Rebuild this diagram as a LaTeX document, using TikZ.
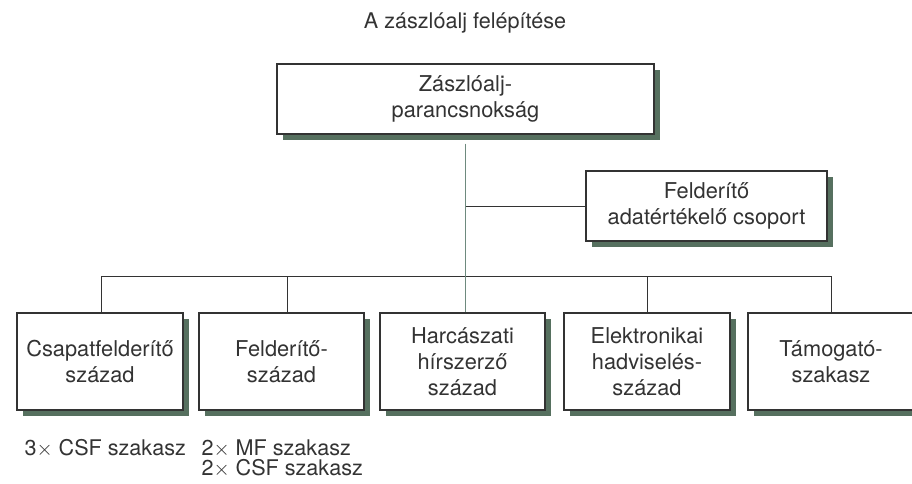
\documentclass[tikz,border=0pt]{standalone}
\usepackage{fontspec}
\setmainfont{TeX Gyre Heros}
\usetikzlibrary{shadows}
\definecolor{shadowc}{HTML}{56705F}
\definecolor{stemc}{HTML}{6E8A7E}
\definecolor{ink}{HTML}{333333}
\begin{document}
\begin{tikzpicture}[x=1pt,y=-1pt,
  every node/.style={text=ink},
  txt/.style={font=\fontsize{21.6}{26}\selectfont},
  orgbox/.style={draw=ink, line width=1.1pt, fill=white, inner sep=0pt,
    align=center, font=\fontsize{21.8}{26}\selectfont,
    drop shadow={shadow xshift=5.5pt, shadow yshift=-6pt, fill=shadowc, opacity=1}},
  conn/.style={draw=ink, line width=1pt},
  stem/.style={draw=stemc, line width=1.2pt}]
\clip (0,0) rectangle (912,484);
\fill[white] (0,0) rectangle (912,484);

\node[txt, anchor=base] (title) at (465,29) {A zászlóalj felépítése};

\node[orgbox, minimum width=377pt, minimum height=70pt] (top) at (465.5,99) {Zászlóalj-\\parancsnokság};
\node[orgbox, minimum width=241pt, minimum height=70pt] (feld) at (706.5,206) {Felderítő\\adatértékelő csoport};

\node[orgbox, minimum width=166pt, minimum height=97pt] (b1) at (100,361.5) {Csapatfelderítő\\század};
\node[orgbox, minimum width=165pt, minimum height=97pt] (b2) at (281.5,361.5) {Felderítő-\\század};
\node[orgbox, minimum width=165pt, minimum height=97pt] (b3) at (462.5,361.5) {Harcászati\\hírszerző\\század};
\node[orgbox, minimum width=166pt, minimum height=97pt] (b4) at (647,361.5) {Elektronikai\\hadviselés-\\század};
\node[orgbox, minimum width=166pt, minimum height=97pt] (b5) at (831,361.5) {Támogató-\\szakasz};

\coordinate (bar) at (465,276);
\draw[conn] ([xshift=1pt]b1.north) |- (b5.north |- bar) -- (b5.north);
\draw[conn] ([xshift=5.5pt]b2.north) -- ([xshift=5.5pt]b2.north |- bar);
\draw[conn] ([xshift=0.5pt]b4.north) -- ([xshift=0.5pt]b4.north |- bar);
\draw[conn] (465,206) -- (feld.west);
\draw[stem] ([yshift=-9pt]top.south) -- (top.south |- b3.north);

\node[txt, anchor=base west] (n1) at (21,455) {3$\times$ CSF szakasz};
\node[txt, anchor=base west] (n2) at (198,455) {2$\times$ MF szakasz};
\node[txt, anchor=base west] (n3) at (198,475) {2$\times$ CSF szakasz};
\end{tikzpicture}
\end{document}
